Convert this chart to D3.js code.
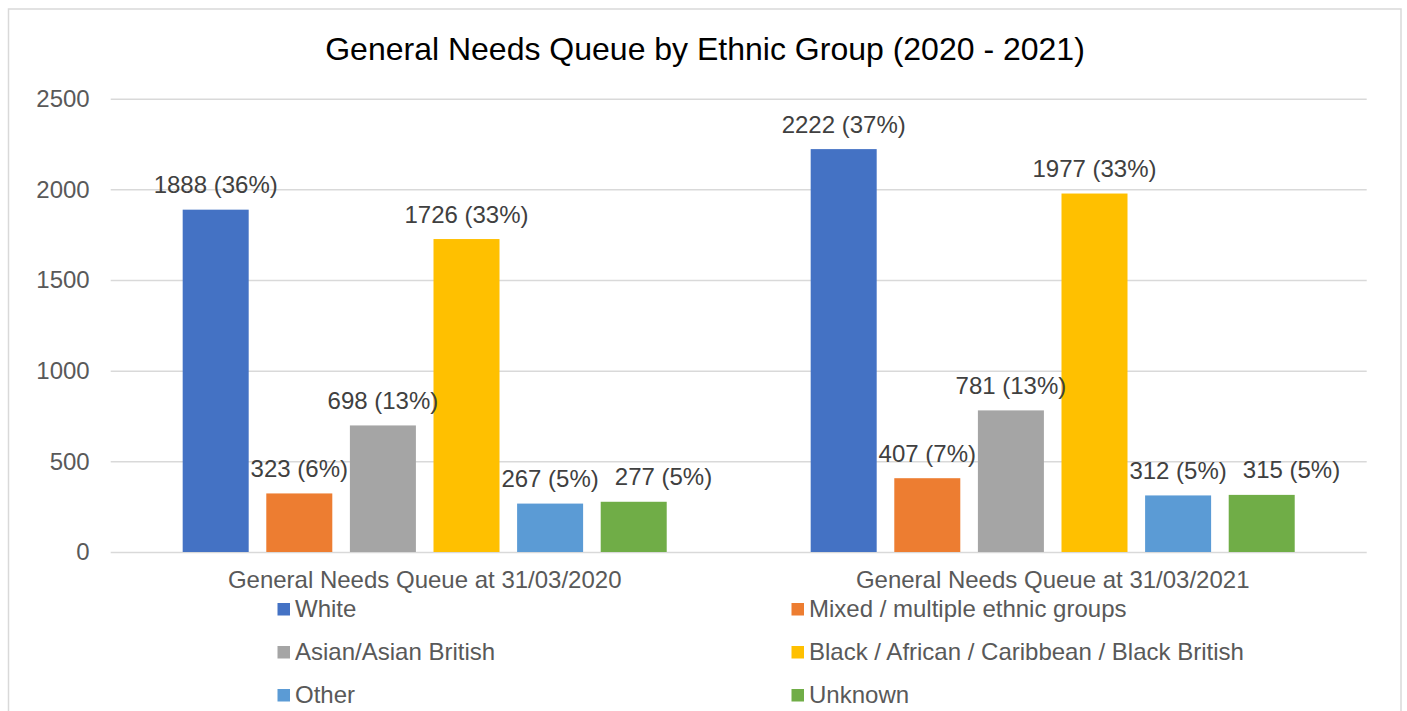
<!DOCTYPE html>
<html>
<head>
<meta charset="utf-8">
<script src="https://cdn.jsdelivr.net/npm/d3@7"></script>
<style>
  html, body { margin: 0; padding: 0; background: #fff; }
  svg { display: block; font-family: "Liberation Sans", Arial, sans-serif; }
</style>
</head>
<body>
<svg id="chart" width="1407" height="711"></svg>
<script>
const title = "General Needs Queue by Ethnic Group (2020 - 2021)";
const categories = ["General Needs Queue at 31/03/2020", "General Needs Queue at 31/03/2021"];
const seriesNames = ["White", "Mixed / multiple ethnic groups", "Asian/Asian British",
  "Black / African / Caribbean / Black British", "Other", "Unknown"];
const seriesColors = ["#4472C4", "#ED7D31", "#A5A5A5", "#FFC000", "#5B9BD5", "#70AD47"];
const values2020 = [1888, 323, 698, 1726, 267, 277];
const values2021 = [2222, 407, 781, 1977, 312, 315];
const percents2020 = [36, 6, 13, 33, 5, 5];
const percents2021 = [37, 7, 13, 33, 5, 5];
const yTicks = [0, 500, 1000, 1500, 2000, 2500];

const valuesByCat = [values2020, values2021];
const percentsByCat = [percents2020, percents2021];

const svg = d3.select("#chart");
const textColor = "#595959";
const gridColor = "#d9d9d9";

// outer border
svg.append("rect").attr("x", 8.5).attr("y", 9).attr("width", 1392.5).attr("height", 720)
  .attr("fill", "#fff").attr("stroke", gridColor).attr("stroke-width", 1.5);

const plotLeft = 110.7, plotRight = 1366.7, plotTop = 98.7, plotBottom = 552;

const y = d3.scaleLinear().domain([0, 2500]).range([plotBottom, plotTop]);
const x0 = d3.scaleBand().domain(categories).range([plotLeft, plotRight]).padding(0);
const x1 = d3.scaleBand().domain(seriesNames).range([0, x0.bandwidth()])
  .paddingInner(0.2105).paddingOuter(0.861);

// title
svg.append("text").attr("x", 705).attr("y", 60).attr("text-anchor", "middle")
  .attr("font-size", 32).attr("fill", "#000").text(title);

// gridlines + y tick labels
const yAxis = d3.axisLeft(y).tickValues(yTicks).tickFormat(d3.format("d"))
  .tickSize(-(plotRight - plotLeft)).tickPadding(21);
const gy = svg.append("g").attr("transform", `translate(${plotLeft},0)`).call(yAxis);
gy.select(".domain").remove();
gy.selectAll(".tick line").attr("stroke", gridColor).attr("stroke-width", 1.5);
gy.selectAll(".tick text").attr("font-size", 24).attr("fill", textColor)
  .attr("font-family", "Liberation Sans, Arial, sans-serif");

// bars
const groups = svg.append("g").selectAll("g").data(categories).join("g")
  .attr("transform", d => `translate(${x0(d)},0)`);

groups.each(function(cat, ci) {
  const g = d3.select(this);
  const data = seriesNames.map((s, si) => ({ s, si, v: valuesByCat[ci][si], p: percentsByCat[ci][si] }));
  g.selectAll("rect").data(data).join("rect")
    .attr("x", d => x1(d.s)).attr("width", x1.bandwidth())
    .attr("y", d => y(d.v)).attr("height", d => y(0) - y(d.v))
    .attr("fill", d => seriesColors[d.si]);
  const labels = g.selectAll("text.lbl").data(data).join("text").attr("class", "lbl")
    .attr("x", d => x1(d.s) + x1.bandwidth() / 2)
    .attr("y", d => y(d.v) - 16.5)
    .attr("text-anchor", "middle").attr("font-size", 24).attr("fill", "#404040")
    .text(d => `${d.v} (${d.p}%)`);
  // simple collision avoidance: push a label right if it overlaps the previous one
  let prev = null;
  labels.each(function(d) {
    const el = d3.select(this);
    const bb = this.getBBox();
    if (prev) {
      const vOverlap = !(bb.y > prev.y + prev.height || bb.y + bb.height < prev.y);
      if (vOverlap && bb.x < prev.x + prev.width + 10) {
        const shift = prev.x + prev.width + 16 - bb.x;
        el.attr("x", +el.attr("x") + shift);
      }
    }
    prev = this.getBBox();
  });
});

// category axis labels
const xAxis = d3.axisBottom(x0).tickSize(0).tickPadding(19);
const gx = svg.append("g").attr("transform", `translate(0,${plotBottom})`).call(xAxis);
gx.select(".domain").remove();
gx.selectAll(".tick text").attr("font-size", 24).attr("fill", textColor)
  .attr("font-family", "Liberation Sans, Arial, sans-serif");

// legend
const legend = svg.append("g");
const legItems = legend.selectAll("g").data(seriesNames).join("g")
  .attr("transform", (d, i) => `translate(${277.5 + (i % 2) * 514},${603 + Math.floor(i / 2) * 43})`);
legItems.append("rect").attr("width", 12.5).attr("height", 12.5)
  .attr("fill", (d, i) => seriesColors[i]);
legItems.append("text").attr("x", 17.5).attr("y", 14).attr("font-size", 24).attr("fill", textColor)
  .text(d => d);
</script>
</body>
</html>
